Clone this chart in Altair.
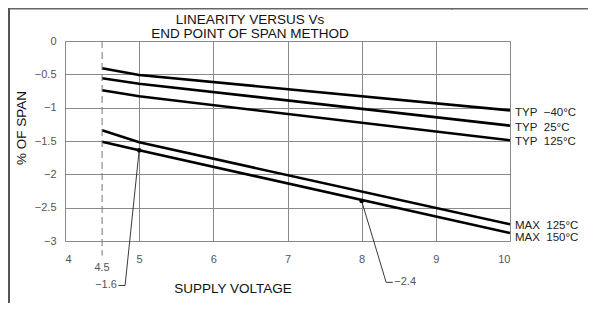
import altair as alt
import pandas as pd

# ---- data ----
volts = [4.5, 5.0, 10.0]
series_names = ["TYP -40", "TYP 25", "TYP 125", "MAX 125", "MAX 150"]
typ_m40 = [-0.41, -0.51, -1.04]
typ_25 = [-0.56, -0.64, -1.27]
typ_125 = [-0.74, -0.83, -1.49]
max_125 = [-1.34, -1.52, -2.75]
max_150 = [-1.51, -1.64, -2.88]

end_labels = ["TYP\u00a0\u00a0\u221240\u00b0C", "TYP\u00a0\u00a025\u00b0C", "TYP\u00a0\u00a0125\u00b0C",
              "MAX\u00a0\u00a0125\u00b0C", "MAX\u00a0\u00a0150\u00b0C"]
end_label_y = [-1.08, -1.30, -1.51, -2.77, -2.95]

x_ticks = [4, 5, 6, 7, 8, 9, 10]
y_ticks = [0, -0.5, -1, -1.5, -2, -2.5, -3]

# annotations (data units)
min_volt = 4.5
min_volt_line_y = [0, -3.22]
min_volt_label_y = -3.41
call1_x = [5.0, 4.81, 4.72]
call1_y = [-1.64, -3.667, -3.667]
call1_text = "\u22121.6"
call2_x = [8.0, 8.33, 8.42]
call2_y = [-2.4, -3.62, -3.62]
call2_text = "\u22122.4"

FONT = "Liberation Sans"

rows = []
for name, vals in zip(series_names, [typ_m40, typ_25, typ_125, max_125, max_150]):
    for v, y in zip(volts, vals):
        rows.append({"series": name, "v": v, "y": y})
df = pd.DataFrame(rows)

xs = alt.Scale(domain=[4, 10], nice=False, zero=False)
ys = alt.Scale(domain=[-3, 0], nice=False, zero=False)

xax = alt.Axis(values=x_ticks, title=None, grid=True, domain=False, ticks=False, format="d",
               labelPadding=12, labelFontSize=11, labelColor="#555", labelFont=FONT,
               gridColor="#8a8a8a", gridWidth=1, gridOpacity=1, labelOverlap=False)
yax = alt.Axis(values=y_ticks, title=None, grid=True, domain=False, ticks=False,
               labelPadding=9, labelFontSize=11, labelColor="#555", labelFont=FONT,
               gridColor="#8a8a8a", gridWidth=1, gridOpacity=1, labelOverlap=False,
               labelExpr="datum.value == 0 ? '0' : replace(format(datum.value, ''), '-', '\u2212')")


def X(f):
    return alt.X(f, scale=xs, axis=xax)


def Y(f):
    return alt.Y(f, scale=ys, axis=yax)


lines = alt.Chart(df).mark_line(color="black", strokeWidth=2.6).encode(
    x=X("v:Q"), y=Y("y:Q"), detail="series:N")

lab_df = pd.DataFrame({"t": end_labels, "y": end_label_y})
end_text = alt.Chart(lab_df).mark_text(align="left", baseline="middle", fontSize=11.5,
                                       font=FONT, color="#222").encode(
    x=alt.value(450), y=Y("y:Q"), text="t:N")

dash_df = pd.DataFrame({"x": [min_volt], "y": [min_volt_line_y[0]], "y2": [min_volt_line_y[1]]})
dash = alt.Chart(dash_df).mark_rule(color="#777", strokeWidth=1, strokeDash=[7, 4]).encode(
    x=X("x:Q"), y=Y("y:Q"), y2="y2:Q")

mv_df = pd.DataFrame({"x": [min_volt], "y": [min_volt_label_y], "t": ["4.5"]})
mv_text = alt.Chart(mv_df).mark_text(align="center", baseline="middle", fontSize=11,
                                     font=FONT, color="#555").encode(
    x=X("x:Q"), y=Y("y:Q"), text="t:N")

lead_rows = []
for k, (cx, cy) in enumerate([(call1_x, call1_y), (call2_x, call2_y)]):
    for i, (a, b) in enumerate(zip(cx, cy)):
        lead_rows.append({"g": k, "o": i, "x": a, "y": b})
lead_df = pd.DataFrame(lead_rows)
leaders = alt.Chart(lead_df).mark_line(color="#222", strokeWidth=0.9).encode(
    x=X("x:Q"), y=Y("y:Q"), detail="g:N", order="o:Q")

dot_df = pd.DataFrame({"x": [call1_x[0], call2_x[0]], "y": [call1_y[0], call2_y[0]]})
dots = alt.Chart(dot_df).mark_point(filled=True, color="black", size=22, opacity=1).encode(
    x=X("x:Q"), y=Y("y:Q"))

c1_df = pd.DataFrame({"x": [call1_x[-1] - 0.02], "y": [call1_y[-1]], "t": [call1_text]})
c1_text = alt.Chart(c1_df).mark_text(align="right", baseline="middle", fontSize=11,
                                     font=FONT, color="#555").encode(
    x=X("x:Q"), y=Y("y:Q"), text="t:N")
c2_df = pd.DataFrame({"x": [call2_x[-1] + 0.02], "y": [call2_y[-1]], "t": [call2_text]})
c2_text = alt.Chart(c2_df).mark_text(align="left", baseline="middle", fontSize=11,
                                     font=FONT, color="#555").encode(
    x=X("x:Q"), y=Y("y:Q"), text="t:N")

title_df = pd.DataFrame({"t": ["LINEARITY VERSUS Vs", "END POINT OF SPAN METHOD"], "py": [-17.5, -3.5]})
titles = alt.Chart(title_df).mark_text(align="center", baseline="alphabetic", fontSize=13.5,
                                       font=FONT, color="#111").encode(
    x=alt.value(185), y=alt.Y("py:Q", scale=None), text="t:N")

xt_df = pd.DataFrame({"t": ["SUPPLY VOLTAGE"]})
xtitle = alt.Chart(xt_df).mark_text(align="center", baseline="alphabetic", fontSize=13.5,
                                    font=FONT, color="#111").encode(
    x=alt.value(168), y=alt.value(251.5), text="t:N")
ytitle = alt.Chart(pd.DataFrame({"t": ["% OF SPAN"]})).mark_text(
    align="center", baseline="middle", fontSize=13.5, font=FONT, color="#111", angle=270).encode(
    x=alt.value(-43), y=alt.value(87), text="t:N")

# outer frame lines (top and left)
frame_top = alt.Chart(pd.DataFrame({"a": [0]})).mark_rule(color="#666", strokeWidth=1.5).encode(
    x=alt.value(-57), x2=alt.value(523), y=alt.value(-32.2))
frame_left = alt.Chart(pd.DataFrame({"a": [0]})).mark_rule(color="#555", strokeWidth=2).encode(
    x=alt.value(-56), y=alt.value(-33), y2=alt.value(262))
frame_tick = alt.Chart(pd.DataFrame({"a": [0]})).mark_rule(color="#666", strokeWidth=1).encode(
    x=alt.value(387), y=alt.value(-33), y2=alt.value(-31))

chart = alt.layer(
    lines, dash, leaders, dots, end_text, mv_text, c1_text, c2_text,
    titles, xtitle, ytitle, frame_top, frame_left, frame_tick
).properties(
    width=445, height=200,
    autosize=alt.AutoSizeParams(type="none"),
    padding={"left": 57, "top": 33, "right": 78, "bottom": 62},
).configure_view(
    stroke="#8a8a8a", strokeWidth=1
).configure(background="white")

chart.save("out.html", embed_options={"renderer": "svg", "actions": False})
